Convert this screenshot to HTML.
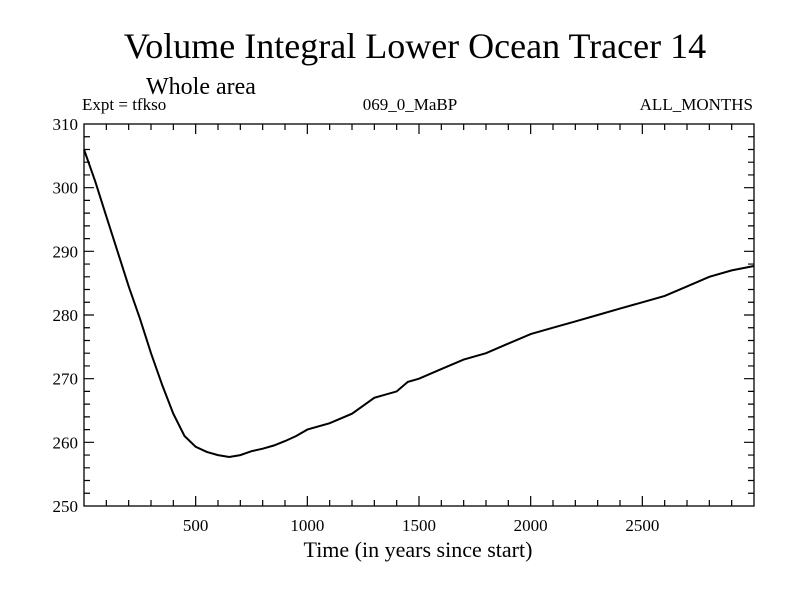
<!DOCTYPE html>
<html><head><meta charset="utf-8"><style>
body{margin:0;background:#fff}
svg{display:block;font-family:"Liberation Serif",serif}
</style></head><body>
<svg width="800" height="600" viewBox="0 0 800 600">
<text x="415" y="58" font-size="36" text-anchor="middle">Volume Integral Lower Ocean Tracer 14</text>
<text x="146" y="94" font-size="24">Whole area</text>
<text x="82" y="110" font-size="17">Expt = tfkso</text>
<text x="410" y="110" font-size="17" text-anchor="middle">069_0_MaBP</text>
<text x="753" y="110" font-size="17" text-anchor="end">ALL_MONTHS</text>
<text x="418" y="557" font-size="22" text-anchor="middle">Time (in years since start)</text>
<g id="axes"></g>
<path id="line" fill="none" stroke="#000" stroke-width="2"/>
</svg>
<script>
const years=[0,50,100,150,200,250,300,350,400,450,500,550,600,650,700,750,800,850,900,950,1000,1100,1200,1300,1400,1450,1500,1600,1700,1800,1900,2000,2100,2200,2300,2400,2500,2600,2700,2800,2900,3000];
const values=[306,301,295.5,290,284.5,279.5,274,269,264.5,261,259.3,258.5,258,257.7,258,258.6,259,259.5,260.2,261,262,263,264.5,267,268,269.5,270,271.5,273,274,275.5,277,278,279,280,281,282,283,284.5,286,287,287.7];
const xTicks=[500,1000,1500,2000,2500];
const yTicks=[250,260,270,280,290,300,310];
const L=84,R=754,T=124,B=506,X0=0,X1=3000,Y0=250,Y1=310;
const sx=v=>L+(v-X0)/(X1-X0)*(R-L);
const sy=v=>B-(v-Y0)/(Y1-Y0)*(B-T);
const ns="http://www.w3.org/2000/svg";
const g=document.getElementById('axes');
function mk(t,a){const e=document.createElementNS(ns,t);for(const k in a)e.setAttribute(k,a[k]);g.appendChild(e);return e;}
const fr=mk('rect',{x:L,y:T,width:R-L,height:B-T,fill:'none',stroke:'#000','stroke-width':1.3});


let d='';
for(let v=100;v<X1;v+=100){const x=sx(v),len=v%500==0?10:6;d+=`M${x},${B}v${-len}M${x},${T}v${len}`;}
for(let v=Y0+2;v<Y1;v+=2){const y=sy(v),len=v%10==0?10:6;d+=`M${L},${y}h${len}M${R},${y}h${-len}`;}
const tk=mk('path',{d:d,stroke:'#000','stroke-width':1.2,fill:'none'});


xTicks.forEach(v=>{const t=mk('text',{x:sx(v),y:B+25,'font-size':17,'text-anchor':'middle'});t.textContent=v;

});
yTicks.forEach(v=>{const t=mk('text',{x:L-6,y:sy(v)+6,'font-size':17,'text-anchor':'end'});t.textContent=v;

});
document.getElementById('line').setAttribute('d',years.map((y,i)=>(i?'L':'M')+sx(y).toFixed(1)+','+sy(values[i]).toFixed(1)).join(''));
</script>
</body></html>
